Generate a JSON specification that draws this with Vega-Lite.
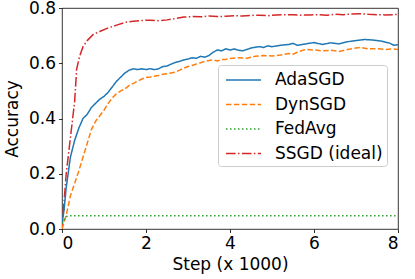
{
  "$schema": "https://vega.github.io/schema/vega-lite/v6.json",
  "width": 336,
  "height": 221,
  "autosize": "none",
  "padding": {"left": 62, "top": 8, "right": 17, "bottom": 50},
  "config": {
    "font": "DejaVu Sans",
    "view": {"stroke": "black", "strokeWidth": 0.8},
    "axis": {"domain": false, "grid": false, "tickColor": "black", "tickWidth": 0.8, "tickSize": 3.5, "labelFontSize": 17, "labelColor": "black", "titleFontSize": 17, "titleFontWeight": "normal", "titleColor": "black", "labelPadding": 3}
  },
  "data": {"values": [
    {"s":"SSGD (ideal)","x":0,"y":0},{"s":"SSGD (ideal)","x":0.1,"y":0.2},{"s":"SSGD (ideal)","x":0.2,"y":0.33},{"s":"SSGD (ideal)","x":0.3,"y":0.46},{"s":"SSGD (ideal)","x":0.35,"y":0.58},{"s":"SSGD (ideal)","x":0.42,"y":0.625},{"s":"SSGD (ideal)","x":0.5,"y":0.66},{"s":"SSGD (ideal)","x":0.6,"y":0.682},{"s":"SSGD (ideal)","x":0.75,"y":0.705},{"s":"SSGD (ideal)","x":0.9,"y":0.715},{"s":"SSGD (ideal)","x":1.1,"y":0.728},{"s":"SSGD (ideal)","x":1.3,"y":0.738},{"s":"SSGD (ideal)","x":1.5,"y":0.748},{"s":"SSGD (ideal)","x":1.7,"y":0.752},{"s":"SSGD (ideal)","x":1.9,"y":0.755},{"s":"SSGD (ideal)","x":2.1,"y":0.756},{"s":"SSGD (ideal)","x":2.3,"y":0.754},{"s":"SSGD (ideal)","x":2.5,"y":0.757},{"s":"SSGD (ideal)","x":2.7,"y":0.762},{"s":"SSGD (ideal)","x":2.9,"y":0.767},{"s":"SSGD (ideal)","x":3.1,"y":0.769},{"s":"SSGD (ideal)","x":3.3,"y":0.768},{"s":"SSGD (ideal)","x":3.5,"y":0.771},{"s":"SSGD (ideal)","x":3.7,"y":0.769},{"s":"SSGD (ideal)","x":3.9,"y":0.77},{"s":"SSGD (ideal)","x":4.1,"y":0.772},{"s":"SSGD (ideal)","x":4.3,"y":0.771},{"s":"SSGD (ideal)","x":4.5,"y":0.773},{"s":"SSGD (ideal)","x":4.7,"y":0.774},{"s":"SSGD (ideal)","x":4.9,"y":0.772},{"s":"SSGD (ideal)","x":5.1,"y":0.775},{"s":"SSGD (ideal)","x":5.3,"y":0.776},{"s":"SSGD (ideal)","x":5.5,"y":0.776},{"s":"SSGD (ideal)","x":5.7,"y":0.774},{"s":"SSGD (ideal)","x":5.9,"y":0.775},{"s":"SSGD (ideal)","x":6.1,"y":0.776},{"s":"SSGD (ideal)","x":6.3,"y":0.774},{"s":"SSGD (ideal)","x":6.5,"y":0.777},{"s":"SSGD (ideal)","x":6.7,"y":0.776},{"s":"SSGD (ideal)","x":6.9,"y":0.778},{"s":"SSGD (ideal)","x":7.1,"y":0.779},{"s":"SSGD (ideal)","x":7.3,"y":0.777},{"s":"SSGD (ideal)","x":7.5,"y":0.776},{"s":"SSGD (ideal)","x":7.7,"y":0.775},{"s":"SSGD (ideal)","x":7.9,"y":0.776},{"s":"SSGD (ideal)","x":8.0,"y":0.777},
    {"s":"AdaSGD","x":0,"y":0.02},{"s":"AdaSGD","x":0.05,"y":0.07},{"s":"AdaSGD","x":0.1,"y":0.15},{"s":"AdaSGD","x":0.2,"y":0.26},{"s":"AdaSGD","x":0.3,"y":0.32},{"s":"AdaSGD","x":0.4,"y":0.365},{"s":"AdaSGD","x":0.5,"y":0.4},{"s":"AdaSGD","x":0.6,"y":0.415},{"s":"AdaSGD","x":0.7,"y":0.44},{"s":"AdaSGD","x":0.8,"y":0.455},{"s":"AdaSGD","x":0.9,"y":0.47},{"s":"AdaSGD","x":1.0,"y":0.48},{"s":"AdaSGD","x":1.1,"y":0.495},{"s":"AdaSGD","x":1.2,"y":0.515},{"s":"AdaSGD","x":1.3,"y":0.535},{"s":"AdaSGD","x":1.4,"y":0.55},{"s":"AdaSGD","x":1.5,"y":0.565},{"s":"AdaSGD","x":1.6,"y":0.575},{"s":"AdaSGD","x":1.7,"y":0.58},{"s":"AdaSGD","x":1.8,"y":0.577},{"s":"AdaSGD","x":1.9,"y":0.58},{"s":"AdaSGD","x":2.0,"y":0.577},{"s":"AdaSGD","x":2.1,"y":0.58},{"s":"AdaSGD","x":2.2,"y":0.577},{"s":"AdaSGD","x":2.3,"y":0.58},{"s":"AdaSGD","x":2.4,"y":0.588},{"s":"AdaSGD","x":2.5,"y":0.59},{"s":"AdaSGD","x":2.6,"y":0.597},{"s":"AdaSGD","x":2.7,"y":0.603},{"s":"AdaSGD","x":2.8,"y":0.607},{"s":"AdaSGD","x":2.9,"y":0.612},{"s":"AdaSGD","x":3.0,"y":0.615},{"s":"AdaSGD","x":3.1,"y":0.62},{"s":"AdaSGD","x":3.2,"y":0.618},{"s":"AdaSGD","x":3.3,"y":0.625},{"s":"AdaSGD","x":3.4,"y":0.622},{"s":"AdaSGD","x":3.5,"y":0.628},{"s":"AdaSGD","x":3.6,"y":0.64},{"s":"AdaSGD","x":3.7,"y":0.648},{"s":"AdaSGD","x":3.8,"y":0.645},{"s":"AdaSGD","x":3.9,"y":0.652},{"s":"AdaSGD","x":4.0,"y":0.648},{"s":"AdaSGD","x":4.1,"y":0.652},{"s":"AdaSGD","x":4.2,"y":0.647},{"s":"AdaSGD","x":4.3,"y":0.645},{"s":"AdaSGD","x":4.4,"y":0.65},{"s":"AdaSGD","x":4.5,"y":0.655},{"s":"AdaSGD","x":4.6,"y":0.658},{"s":"AdaSGD","x":4.7,"y":0.66},{"s":"AdaSGD","x":4.8,"y":0.657},{"s":"AdaSGD","x":4.9,"y":0.663},{"s":"AdaSGD","x":5.0,"y":0.66},{"s":"AdaSGD","x":5.2,"y":0.665},{"s":"AdaSGD","x":5.4,"y":0.668},{"s":"AdaSGD","x":5.5,"y":0.672},{"s":"AdaSGD","x":5.6,"y":0.665},{"s":"AdaSGD","x":5.8,"y":0.67},{"s":"AdaSGD","x":6.0,"y":0.675},{"s":"AdaSGD","x":6.2,"y":0.668},{"s":"AdaSGD","x":6.4,"y":0.674},{"s":"AdaSGD","x":6.6,"y":0.67},{"s":"AdaSGD","x":6.8,"y":0.678},{"s":"AdaSGD","x":7.0,"y":0.682},{"s":"AdaSGD","x":7.2,"y":0.686},{"s":"AdaSGD","x":7.4,"y":0.684},{"s":"AdaSGD","x":7.6,"y":0.68},{"s":"AdaSGD","x":7.8,"y":0.673},{"s":"AdaSGD","x":7.9,"y":0.665},{"s":"AdaSGD","x":8.0,"y":0.667},
    {"s":"DynSGD","x":0,"y":0.0},{"s":"DynSGD","x":0.1,"y":0.05},{"s":"DynSGD","x":0.2,"y":0.12},{"s":"DynSGD","x":0.3,"y":0.165},{"s":"DynSGD","x":0.4,"y":0.21},{"s":"DynSGD","x":0.5,"y":0.26},{"s":"DynSGD","x":0.6,"y":0.31},{"s":"DynSGD","x":0.7,"y":0.36},{"s":"DynSGD","x":0.8,"y":0.39},{"s":"DynSGD","x":0.9,"y":0.41},{"s":"DynSGD","x":1.0,"y":0.43},{"s":"DynSGD","x":1.1,"y":0.455},{"s":"DynSGD","x":1.2,"y":0.475},{"s":"DynSGD","x":1.3,"y":0.49},{"s":"DynSGD","x":1.4,"y":0.5},{"s":"DynSGD","x":1.5,"y":0.507},{"s":"DynSGD","x":1.6,"y":0.52},{"s":"DynSGD","x":1.7,"y":0.527},{"s":"DynSGD","x":1.8,"y":0.535},{"s":"DynSGD","x":1.9,"y":0.543},{"s":"DynSGD","x":2.0,"y":0.548},{"s":"DynSGD","x":2.1,"y":0.55},{"s":"DynSGD","x":2.2,"y":0.553},{"s":"DynSGD","x":2.3,"y":0.556},{"s":"DynSGD","x":2.4,"y":0.56},{"s":"DynSGD","x":2.5,"y":0.562},{"s":"DynSGD","x":2.6,"y":0.565},{"s":"DynSGD","x":2.7,"y":0.568},{"s":"DynSGD","x":2.8,"y":0.575},{"s":"DynSGD","x":2.9,"y":0.582},{"s":"DynSGD","x":3.0,"y":0.588},{"s":"DynSGD","x":3.1,"y":0.592},{"s":"DynSGD","x":3.2,"y":0.597},{"s":"DynSGD","x":3.3,"y":0.602},{"s":"DynSGD","x":3.4,"y":0.607},{"s":"DynSGD","x":3.5,"y":0.61},{"s":"DynSGD","x":3.6,"y":0.612},{"s":"DynSGD","x":3.7,"y":0.608},{"s":"DynSGD","x":3.8,"y":0.614},{"s":"DynSGD","x":3.9,"y":0.614},{"s":"DynSGD","x":4.0,"y":0.617},{"s":"DynSGD","x":4.2,"y":0.62},{"s":"DynSGD","x":4.4,"y":0.618},{"s":"DynSGD","x":4.6,"y":0.625},{"s":"DynSGD","x":4.8,"y":0.628},{"s":"DynSGD","x":5.0,"y":0.626},{"s":"DynSGD","x":5.2,"y":0.63},{"s":"DynSGD","x":5.4,"y":0.635},{"s":"DynSGD","x":5.5,"y":0.633},{"s":"DynSGD","x":5.6,"y":0.64},{"s":"DynSGD","x":5.8,"y":0.65},{"s":"DynSGD","x":6.0,"y":0.648},{"s":"DynSGD","x":6.2,"y":0.645},{"s":"DynSGD","x":6.4,"y":0.647},{"s":"DynSGD","x":6.6,"y":0.643},{"s":"DynSGD","x":6.8,"y":0.65},{"s":"DynSGD","x":7.0,"y":0.655},{"s":"DynSGD","x":7.1,"y":0.657},{"s":"DynSGD","x":7.3,"y":0.652},{"s":"DynSGD","x":7.5,"y":0.653},{"s":"DynSGD","x":7.7,"y":0.65},{"s":"DynSGD","x":7.9,"y":0.652},{"s":"DynSGD","x":8.0,"y":0.65},
    {"s":"FedAvg","x":0,"y":0.02},{"s":"FedAvg","x":0.1,"y":0.045},{"s":"FedAvg","x":0.2,"y":0.048},{"s":"FedAvg","x":4,"y":0.048},{"s":"FedAvg","x":8,"y":0.048}
  ]},
  "mark": {"type": "line", "strokeWidth": 1.5, "clip": true},
  "encoding": {
    "x": {"field": "x", "type": "quantitative", "title": "Step (x 1000)", "scale": {"domain": [0, 8], "nice": false}, "axis": {"values": [0, 2, 4, 6, 8], "titlePadding": 5}},
    "y": {"field": "y", "type": "quantitative", "title": "Accuracy", "scale": {"domain": [0, 0.8], "nice": false}, "axis": {"values": [0, 0.2, 0.4, 0.6, 0.8], "format": ".1f", "titlePadding": 7}},
    "color": {"field": "s", "type": "nominal", "title": null,
      "scale": {"domain": ["AdaSGD", "DynSGD", "FedAvg", "SSGD (ideal)"], "range": ["#1f77b4", "#ff7f0e", "#2ca02c", "#d62728"]},
      "legend": {"orient": "none", "legendX": 156, "legendY": 57, "fillColor": "white", "strokeColor": "#cccccc", "cornerRadius": 3, "padding": 4, "symbolType": "M-0.7,0H2.8", "symbolSize": 400, "symbolStrokeWidth": 1.5, "symbolFillColor": "transparent", "labelFontSize": 17, "labelColor": "black", "labelOffset": 31, "rowPadding": 5.5, "labelLimit": 200}},
    "strokeDash": {"field": "s", "type": "nominal", "title": null,
      "scale": {"domain": ["AdaSGD", "DynSGD", "FedAvg", "SSGD (ideal)"], "range": [[1, 0], [5.5, 2.4], [1.5, 2.5], [9.6, 2.4, 1.5, 2.4]]}},
    "order": {"field": "x", "type": "quantitative"}
  }
}
